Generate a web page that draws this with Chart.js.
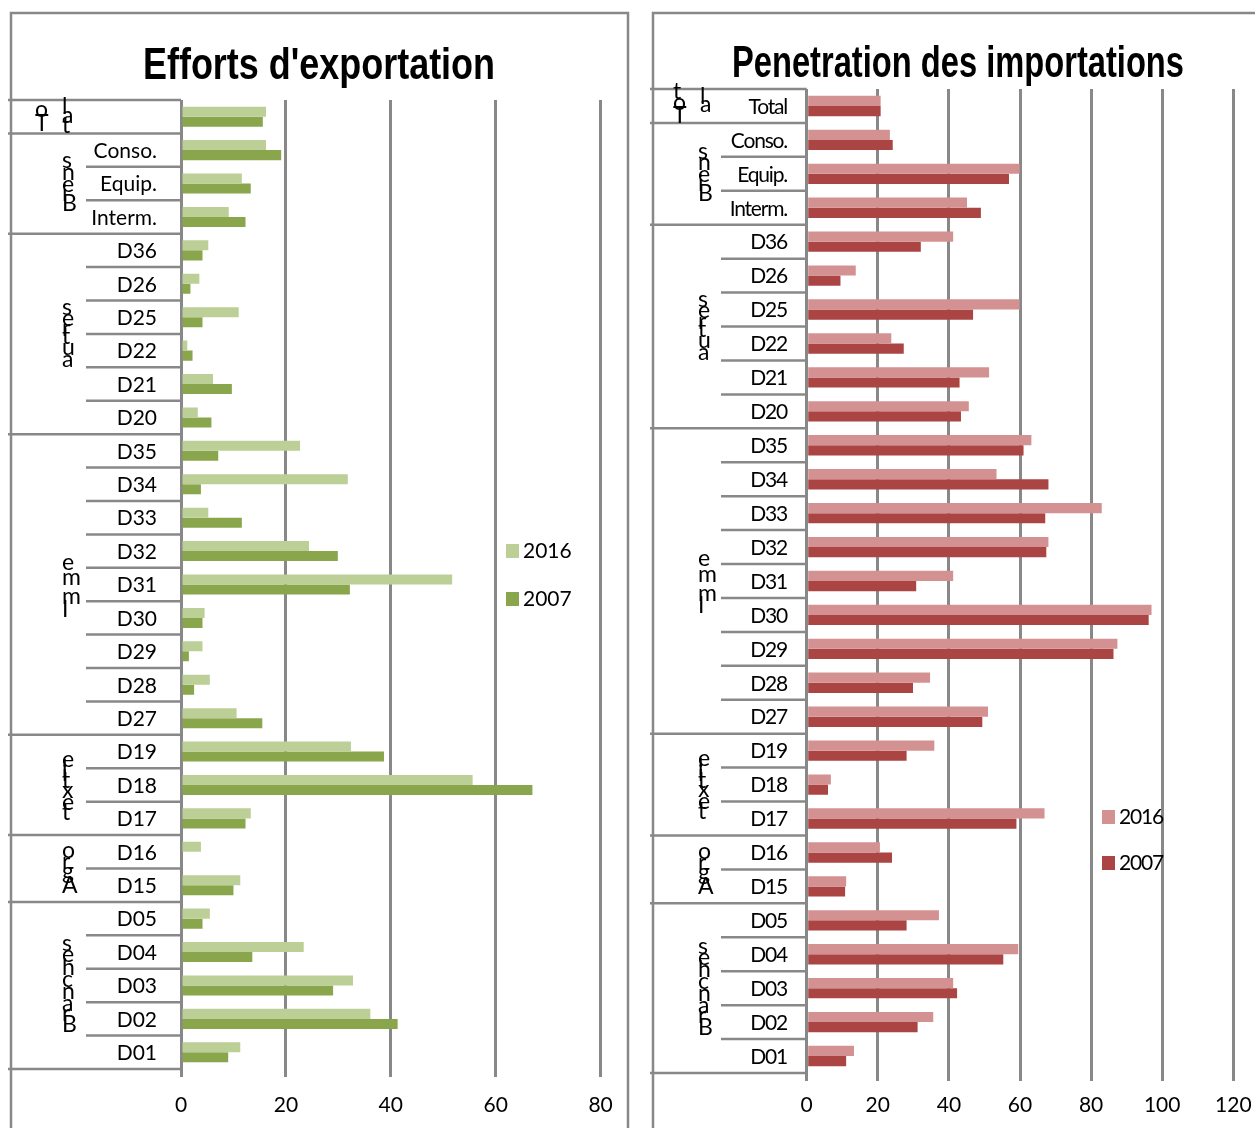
<!DOCTYPE html>
<html>
<head>
<meta charset="utf-8">
<script src="https://cdn.jsdelivr.net/npm/chart.js@4.4.1/dist/chart.umd.min.js"></script>
<style>
  html, body { margin: 0; padding: 0; background: #fff; }
  body { width: 1255px; height: 1128px; position: relative; overflow: hidden; }
  canvas { position: absolute; top: 0; }
  #exp { left: 0; }
  #imp { left: 640px; }
</style>
</head>
<body>
<canvas id="exp" width="640" height="1128"></canvas>
<canvas id="imp" width="680" height="1128"></canvas>
<script>
// Row categories, top to bottom
const categories = ['Total', 'Conso.', 'Equip.', 'Interm.',
  'D36', 'D26', 'D25', 'D22', 'D21', 'D20',
  'D35', 'D34', 'D33', 'D32', 'D31', 'D30', 'D29', 'D28', 'D27',
  'D19', 'D18', 'D17',
  'D16', 'D15',
  'D05', 'D04', 'D03', 'D02', 'D01'];

// Row groups (name and number of rows in each)
const groupNames = ['Total', 'Biens', 'autres', 'Imme', 'textile', 'Agro', 'Branches'];
const groupSizes = [1, 3, 6, 9, 3, 2, 5];

const seriesLabels = ['2016', '2007'];

// Efforts d'exportation
const export2016 = [16.2, 16.2, 11.6, 9.1,
  5.2, 3.5, 11.0, 1.2, 6.1, 3.2,
  22.7, 31.8, 5.2, 24.4, 51.7, 4.5, 4.1, 5.5, 10.6,
  32.4, 55.6, 13.3,
  3.8, 11.3,
  5.5, 23.4, 32.8, 36.1, 11.3];
const export2007 = [15.6, 19.1, 13.3, 12.3,
  4.1, 1.8, 4.1, 2.2, 9.7, 5.8,
  7.1, 3.8, 11.6, 29.9, 32.2, 4.1, 1.5, 2.5, 15.5,
  38.7, 67.0, 12.3,
  0, 10.0,
  4.1, 13.6, 29.0, 41.3, 9.0];

// Penetration des importations
const import2016 = [20.8, 23.4, 59.9, 45.1,
  41.2, 13.8, 59.9, 23.8, 51.3, 45.6,
  63.2, 53.4, 83.0, 68.0, 41.2, 97.0, 87.4, 34.7, 51.0,
  35.9, 6.8, 66.9,
  20.6, 11.1,
  37.2, 59.5, 41.2, 35.6, 13.3];
const import2007 = [20.8, 24.2, 56.9, 49.0,
  32.1, 9.5, 46.8, 27.3, 43.0, 43.4,
  61.0, 68.0, 67.1, 67.4, 30.8, 96.2, 86.3, 29.9, 49.4,
  28.1, 6.0, 59.0,
  24.0, 10.8,
  28.1, 55.3, 42.3, 31.2, 11.1];

const FONT = "'Lato', 'Liberation Sans', sans-serif";
const GRID = '#888888';

// Draws a word as upright letters stacked bottom-to-top, each letter
// advancing by its own width (so tall glyphs overlap).
function drawStacked(ctx, text, x, cy) {
  const chars = [...text];
  const widths = chars.map(c => ctx.measureText(c).width);
  const total = widths.reduce((a, b) => a + b, 0);
  let y = cy + total / 2;
  chars.forEach((c, i) => {
    ctx.fillText(c, x, y - widths[i] / 2);
    y -= widths[i];
  });
}

const panelDecor = {
  id: 'panelDecor',
  beforeDraw(chart, args, o) {
    const ctx = chart.ctx;
    ctx.save();
    ctx.fillStyle = '#fff';
    ctx.fillRect(0, 0, chart.width, chart.height);
    // panel frame
    ctx.strokeStyle = GRID;
    ctx.lineWidth = 2.5;
    ctx.beginPath();
    ctx.moveTo(o.frame.left, chart.height + 5);
    ctx.lineTo(o.frame.left, o.frame.top);
    ctx.lineTo(o.frame.right, o.frame.top);
    ctx.lineTo(o.frame.right, chart.height + 5);
    ctx.stroke();
    ctx.restore();
  },
  afterDraw(chart, args, o) {
    const ctx = chart.ctx;
    const ys = chart.scales.y;
    const area = chart.chartArea;
    const half = (ys.getPixelForValue(1) - ys.getPixelForValue(0)) / 2;
    const rowTop = i => ys.getPixelForValue(i) - half;
    ctx.save();

    // category table lines
    ctx.strokeStyle = GRID;
    ctx.lineWidth = 2.5;
    let start = 0;
    groupSizes.forEach(size => {
      ctx.beginPath();
      ctx.moveTo(o.tableLeft, rowTop(start));
      ctx.lineTo(area.left, rowTop(start));
      ctx.stroke();
      for (let k = 1; k < size; k++) {
        ctx.beginPath();
        ctx.moveTo(o.subLeft, rowTop(start + k));
        ctx.lineTo(area.left, rowTop(start + k));
        ctx.stroke();
      }
      start += size;
    });
    ctx.beginPath();
    ctx.moveTo(o.tableLeft, rowTop(categories.length));
    ctx.lineTo(area.left, rowTop(categories.length));
    ctx.stroke();

    // row labels
    ctx.fillStyle = '#000';
    ctx.font = `${o.labelSize}px ${FONT}`;
    ctx.letterSpacing = o.spacing + 'px';
    ctx.textAlign = 'right';
    ctx.textBaseline = 'middle';
    categories.forEach((c, i) => {
      if (o.blankRows.includes(i)) return;
      ctx.fillText(c, o.labelRight, ys.getPixelForValue(i) + 1);
    });

    // group labels, letters stacked vertically
    ctx.letterSpacing = '0px';
    ctx.font = `23px ${FONT}`;
    ctx.textAlign = 'left';
    start = 0;
    groupNames.forEach((name, g) => {
      const size = groupSizes[g];
      const cy = (rowTop(start) + rowTop(start + size)) / 2;
      if (g === 0) {
        const cols = [name.slice(0, o.totalSplit), name.slice(o.totalSplit)];
        cols.forEach((t, k) => drawStacked(ctx, t, o.totalCols[k], cy + o.totalDy[k]));
      } else {
        drawStacked(ctx, name, o.groupX, cy);
      }
      start += size;
    });

    // title, condensed to its box width
    ctx.font = `bold 45px 'Liberation Sans', sans-serif`;
    ctx.textAlign = 'center';
    ctx.textBaseline = 'alphabetic';
    const tw = ctx.measureText(o.title).width;
    ctx.save();
    ctx.translate(o.titleCx, o.titleBase);
    ctx.scale(o.titleW / tw, 1);
    ctx.fillText(o.title, 0, 0);
    ctx.restore();

    // legend
    ctx.font = `21px ${FONT}`;
    ctx.letterSpacing = o.spacing + 'px';
    ctx.textAlign = 'left';
    ctx.textBaseline = 'middle';
    chart.data.datasets.forEach((ds, i) => {
      const y = o.legendY[i];
      ctx.fillStyle = ds.backgroundColor;
      ctx.fillRect(o.legendX, y - 7, 13, 14);
      ctx.fillStyle = '#000';
      ctx.fillText(ds.label, o.legendX + 17, y);
    });
    ctx.restore();
  }
};

function makePanel(id, first, second, colors, layout, decor) {
  return new Chart(document.getElementById(id), {
    type: 'bar',
    data: {
      labels: categories,
      datasets: [
        { label: seriesLabels[0], data: first, backgroundColor: colors[0] },
        { label: seriesLabels[1], data: second, backgroundColor: colors[1] }
      ]
    },
    options: {
      indexAxis: 'y',
      responsive: false,
      animation: false,
      events: [],
      layout: { padding: { left: layout.left, right: layout.right, top: layout.top, bottom: 0 } },
      datasets: { bar: { categoryPercentage: 0.6, barPercentage: 1.0 } },
      scales: {
        y: { display: false },
        x: {
          min: 0,
          max: layout.max,
          ticks: {
            stepSize: 20,
            color: '#000',
            maxRotation: 0,
            padding: layout.tickPad,
            font: { family: FONT, size: 21 }
          },
          grid: { color: GRID, lineWidth: 3, tickLength: 8 },
          border: { display: false },
          afterFit(scale) { scale.height = layout.axisH; }
        }
      },
      plugins: {
        legend: { display: false },
        tooltip: { enabled: false },
        panelDecor: decor
      }
    },
    plugins: [panelDecor]
  });
}

makePanel('exp', export2016, export2007, ['#bbcf97', '#8aa64d'],
  { left: 181, right: 39.4, top: 100, max: 80, axisH: 59, tickPad: 16 },
  {
    title: "Efforts d'exportation", titleCx: 319, titleBase: 79, titleW: 352,
    frame: { left: 11, right: 628, top: 13 },
    tableLeft: 8, subLeft: 86, labelRight: 157, labelSize: 21, spacing: 0,
    groupX: 62, totalSplit: 2, totalCols: [35, 62], totalDy: [0, 0],
    blankRows: [0],
    legendX: 506, legendY: [551, 599]
  });

makePanel('imp', import2016, import2007, ['#d39291', '#aa4543'],
  { left: 166.7, right: 86.7, top: 89, max: 120, axisH: 55, tickPad: 12 },
  {
    title: 'Penetration des importations', titleCx: 318, titleBase: 77, titleW: 452,
    frame: { left: 13, right: 760, top: 13 },
    tableLeft: 10, subLeft: 81, labelRight: 147, labelSize: 21, spacing: -1.2,
    groupX: 58, totalSplit: 3, totalCols: [33, 60], totalDy: [-1, -4],
    blankRows: [],
    legendX: 462, legendY: [817, 863]
  });
</script>
</body>
</html>
